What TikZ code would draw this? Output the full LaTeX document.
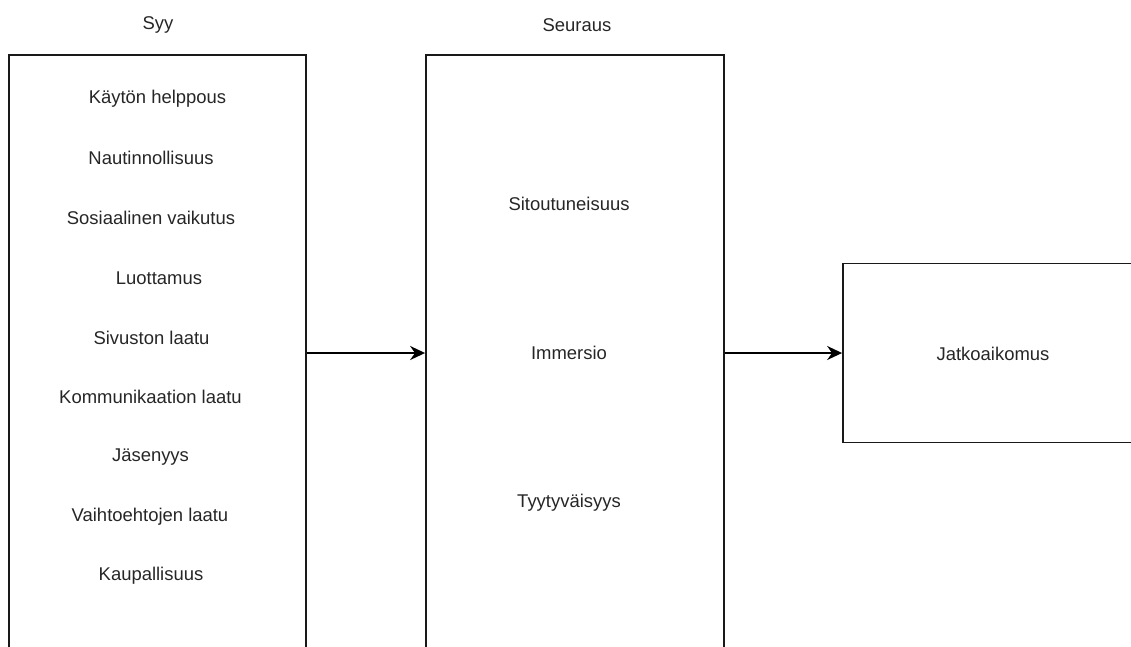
\documentclass[tikz,border=0pt]{standalone}
\usepackage{fontspec}
\setmainfont{Liberation Sans}
\usetikzlibrary{arrows.meta}
\begin{document}
\begin{tikzpicture}[x=0.02cm, y=-0.02cm, >={Stealth[length=8.5pt,width=8pt]},
  box/.style={draw=black!90, line width=1.1pt},
  item/.style={text=black!85, font=\fontsize{10.5}{12.6}\selectfont}]
\useasboundingbox (0,0) rectangle (1131,646);
\clip (0,0) rectangle (1131,646);
\node[item] (syy) at (158,25) {Syy};
\node[item] (seuraus) at (577,25) {Seuraus};
\node[box, minimum width=5.94cm, minimum height=11.92cm] (cause) at (157.5,353) {};
\node[box, minimum width=5.96cm, minimum height=11.92cm] (effect) at (575,353) {};
\node[box, minimum width=6cm, minimum height=3.58cm] (intent) at (993,353) {};
\node[item] (c1) at (157.5,99) {Käytön helppous};
\node[item] (c2) at (151,158) {Nautinnollisuus};
\node[item] (c3) at (151,218) {Sosiaalinen vaikutus};
\node[item] (c4) at (159,278) {Luottamus};
\node[item] (c5) at (151.5,338) {Sivuston laatu};
\node[item] (c6) at (150.5,397) {Kommunikaation laatu};
\node[item] (c7) at (150.5,457) {Jäsenyys};
\node[item] (c8) at (150,517) {Vaihtoehtojen laatu};
\node[item] (c9) at (151,576) {Kaupallisuus};
\node[item] (e1) at (569,204) {Sitoutuneisuus};
\node[item] (e2) at (569,353) {Immersio};
\node[item] (e3) at (569,503) {Tyytyväisyys};
\node[item] (i1) at (993,354) {Jatkoaikomus};
\draw[->, line width=0.9pt] (cause) -- (effect);
\draw[->, line width=0.9pt] (effect) -- (intent);
\end{tikzpicture}
\end{document}
